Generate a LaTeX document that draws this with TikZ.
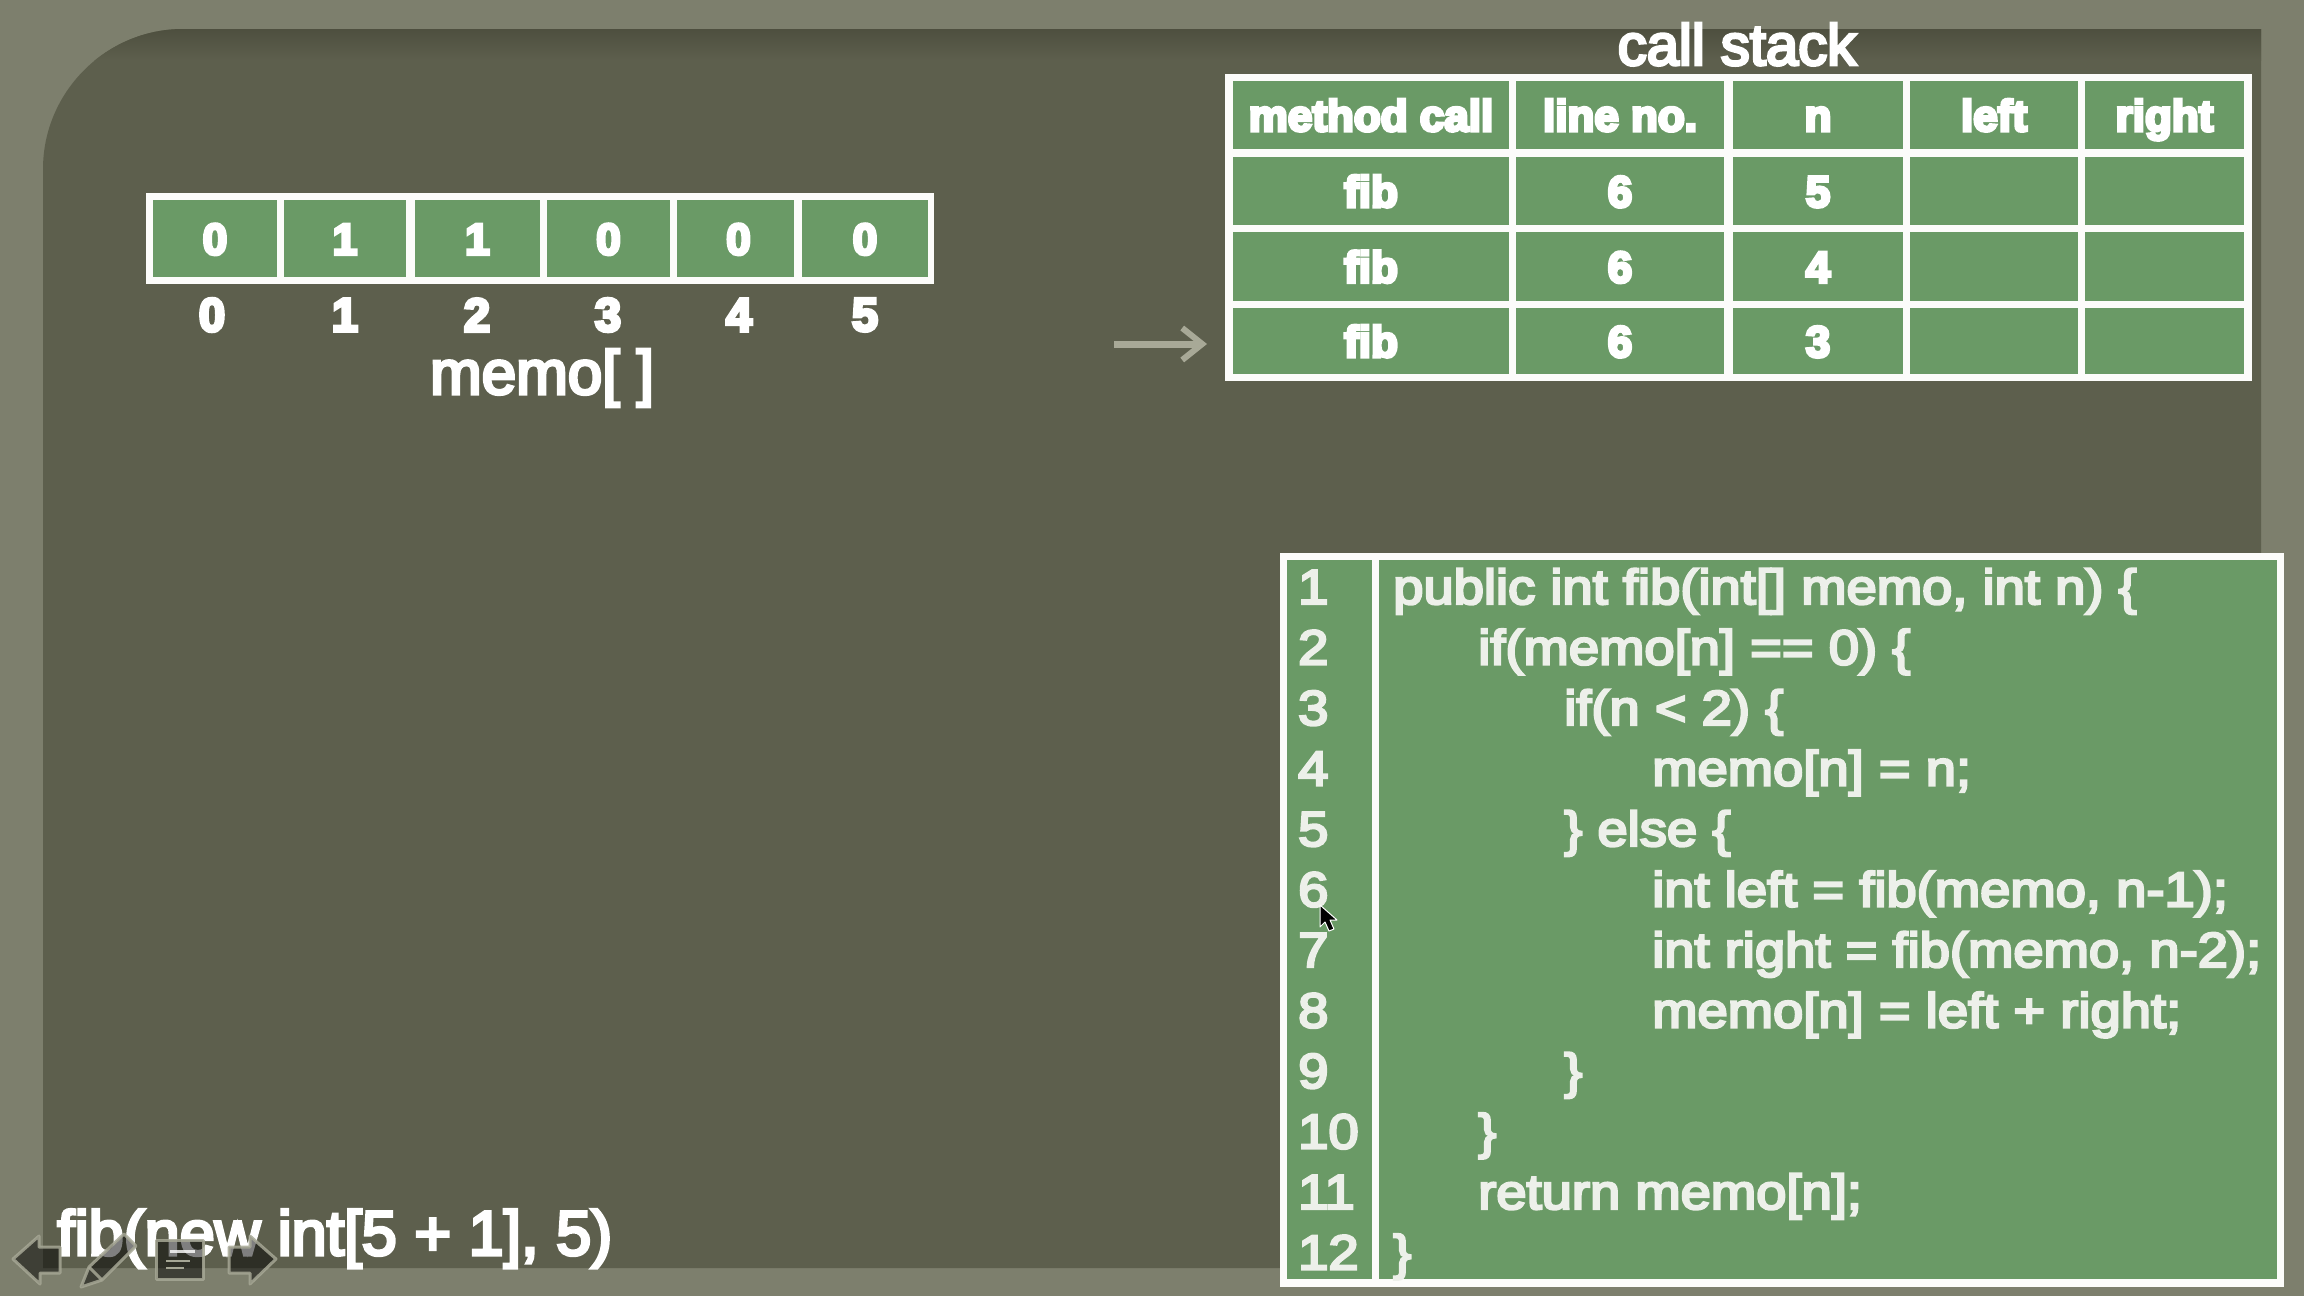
\documentclass[tikz,border=0pt]{standalone}
\usepackage{fontspec}
\usetikzlibrary{arrows.meta}
\setmainfont{Liberation Sans}
\newfontfamily\heavyfont[FakeBold=7]{Liberation Sans Bold}
\newfontfamily\midfont[FakeBold=5]{Liberation Sans}
\newfontfamily\codefont[FakeStretch=1.11,FakeBold=5]{Liberation Sans}
\definecolor{bgouter}{HTML}{7D7F6D}
\definecolor{panelc}{HTML}{5D5F4D}
\definecolor{paneld}{HTML}{4E4F3F}
\definecolor{greenc}{HTML}{6A9A66}
\definecolor{frame}{HTML}{FCFCFA}
\definecolor{codetxt}{HTML}{EDF0EA}
\definecolor{arrowc}{HTML}{A8A997}
\definecolor{iconline}{HTML}{A6A795}
\tikzset{
  whitebox/.style={fill=frame,draw=none,inner sep=0pt,outer sep=0pt,anchor=north west},
  cell/.style={fill=greenc,draw=none,inner sep=0pt,outer sep=0pt,text=white,anchor=center,text height=32pt,text depth=0pt,font=\heavyfont\fontsize{44}{44}\selectfont},
  idx/.style={inner sep=0pt,text=white,font=\heavyfont\fontsize{47}{47}\selectfont},
  bigtxt/.style={inner sep=0pt,text=white,anchor=base,font=\midfont\fontsize{62}{62}\selectfont},
  codeln/.style={inner sep=0pt,text=codetxt,anchor=base west,font=\codefont\fontsize{49}{49}\selectfont},
  navicon/.style={draw=iconline,line width=3pt,fill=black,fill opacity=.5,draw opacity=.85,line join=round},
  pointer/.style={draw=arrowc,line width=7pt,-{Straight Barb[length=20pt,width=32pt,line width=6pt]}}
}
\newcommand{\cellat}[7]{% name x0 x1 y0 y1 text
  \node[cell,minimum width=#3pt-#2pt,minimum height=#5pt-#4pt] (#1) at ({(#2+#3)/2},{(#4+#5)/2}) {#6#7};}
\begin{document}
\begin{tikzpicture}[x=1pt,y=-1pt]
\useasboundingbox (0,0) rectangle (2304,1296);
\fill[bgouter] (0,0) rectangle (2304,1296);
% panel
\begin{scope}
\clip (43,1268) -- (43,169) .. controls (43,92) and (106,29) .. (183,29) -- (2261,29) -- (2261,1268) -- cycle;
\fill[panelc] (0,0) rectangle (2304,1296);
\shade[top color=paneld,bottom color=panelc] (0,29) rectangle (2304,60);
\end{scope}
% memo array
\node[whitebox,minimum width=788pt,minimum height=91pt] (memobox) at (146,193) {};
\cellat{m0}{153}{277}{200}{277}{}{0}
\cellat{m1}{284}{406}{200}{277}{}{1}
\cellat{m2}{415}{540}{200}{277}{}{1}
\cellat{m3}{547}{670}{200}{277}{}{0}
\cellat{m4}{677}{794}{200}{277}{\hspace*{6pt}}{0}
\cellat{m5}{802}{928}{200}{277}{}{0}
\node[idx] (i0) at (212,315) {0};
\node[idx] (i1) at (345,315) {1};
\node[idx] (i2) at (477,315) {2};
\node[idx] (i3) at (608,315) {3};
\node[idx] (i4) at (739,315) {4};
\node[idx] (i5) at (865,315) {5};
\node[bigtxt] (memolab) at (542,394) {memo[ ]};
% call stack
\node[bigtxt,font=\midfont\fontsize{58}{58}\selectfont] (cslab) at (1737,65) {call stack};
\node[whitebox,minimum width=1027pt,minimum height=307pt] (stackbox) at (1225,74) {};
\cellat{h1}{1233}{1509}{81}{149}{}{method call}
\cellat{h2}{1516}{1724}{81}{149}{}{line no.}
\cellat{h3}{1733}{1903}{81}{149}{}{n}
\cellat{h4}{1910}{2078}{81}{149}{}{left}
\cellat{h5}{2085}{2244}{81}{149}{}{right}
\cellat{a1}{1233}{1509}{157}{225}{}{fib}
\cellat{a2}{1516}{1724}{157}{225}{}{6}
\cellat{a3}{1733}{1903}{157}{225}{}{5}
\cellat{a4}{1910}{2078}{157}{225}{}{}
\cellat{a5}{2085}{2244}{157}{225}{}{}
\cellat{b1}{1233}{1509}{232}{301}{}{fib}
\cellat{b2}{1516}{1724}{232}{301}{}{6}
\cellat{b3}{1733}{1903}{232}{301}{}{4}
\cellat{b4}{1910}{2078}{232}{301}{}{}
\cellat{b5}{2085}{2244}{232}{301}{}{}
\cellat{c1}{1233}{1509}{308}{374}{}{fib}
\cellat{c2}{1516}{1724}{308}{374}{}{6}
\cellat{c3}{1733}{1903}{308}{374}{}{3}
\cellat{c4}{1910}{2078}{308}{374}{}{}
\cellat{c5}{2085}{2244}{308}{374}{}{}
% pointer
\coordinate (pstart) at (1114,344);
\coordinate (ptip) at (1207,344);
\draw[pointer] (pstart) -- (ptip);
% code box
\node[whitebox,minimum width=1004pt,minimum height=734pt] (codebox) at (1280,553) {};
\node[cell,minimum width=85pt,minimum height=719pt,anchor=north west] (numcol) at (1287,560) {};
\node[cell,minimum width=898pt,minimum height=719pt,anchor=north west] (codecol) at (1379,560) {};
\foreach \n [count=\i from 0] in {1,...,12}{
  \node[codeln] (ln\n) at (1298,604+60.5*\i) {\n};
}
\node[codeln] (t1) at (1393,604) {public int fib(int[] memo, int n) \{};
\node[codeln] (t2) at (1478,664.5) {if(memo[n] == 0) \{};
\node[codeln] (t3) at (1564,725) {if(n < 2) \{};
\node[codeln] (t4) at (1652,785.5) {memo[n] = n;};
\node[codeln] (t5) at (1564,846) {\} else \{};
\node[codeln] (t6) at (1652,906.5) {int left = fib(memo, n-1);};
\node[codeln] (t7) at (1652,967) {int right = fib(memo, n-2);};
\node[codeln] (t8) at (1652,1027.5) {memo[n] = left + right;};
\node[codeln] (t9) at (1564,1088) {\}};
\node[codeln] (t10) at (1478,1148.5) {\}};
\node[codeln] (t11) at (1478,1209) {return memo[n];};
\node[codeln] (t12) at (1393,1269.5) {\}};
% cursor
\fill[black,draw=white,line width=1pt,line join=round] (1320,905) -- (1320,927) -- (1325,922) -- (1329,931) -- (1334,929) -- (1330,920) -- (1337,920) -- cycle;
% bottom call
\node[bigtxt,anchor=base west,font=\midfont\fontsize{63}{63}\selectfont] (calltxt) at (57,1255) {fib(new int[5 + 1], 5)};
% nav icons
\draw[navicon] (13,1259) -- (39,1236) -- (39,1247) -- (60,1247) -- (60,1273) -- (40,1273) -- (40,1284) -- cycle;
\draw[navicon] (276,1259) -- (250,1236) -- (250,1247) -- (229,1247) -- (229,1273) -- (250,1273) -- (250,1284) -- cycle;
\draw[navicon] (81,1287) -- (89,1267) -- (124,1234) -- (136,1246) -- (102,1280) -- cycle;
\draw[iconline,line width=3pt,opacity=.85] (89,1267) -- (102,1280);
\draw[navicon] (156,1240) rectangle (203,1279);
\draw[white,line width=3pt,opacity=.8] (170,1251) -- (195,1251);
\draw[iconline,line width=2.5pt] (166,1261) -- (190,1261) (166,1268) -- (184,1268);
\end{tikzpicture}
\end{document}
